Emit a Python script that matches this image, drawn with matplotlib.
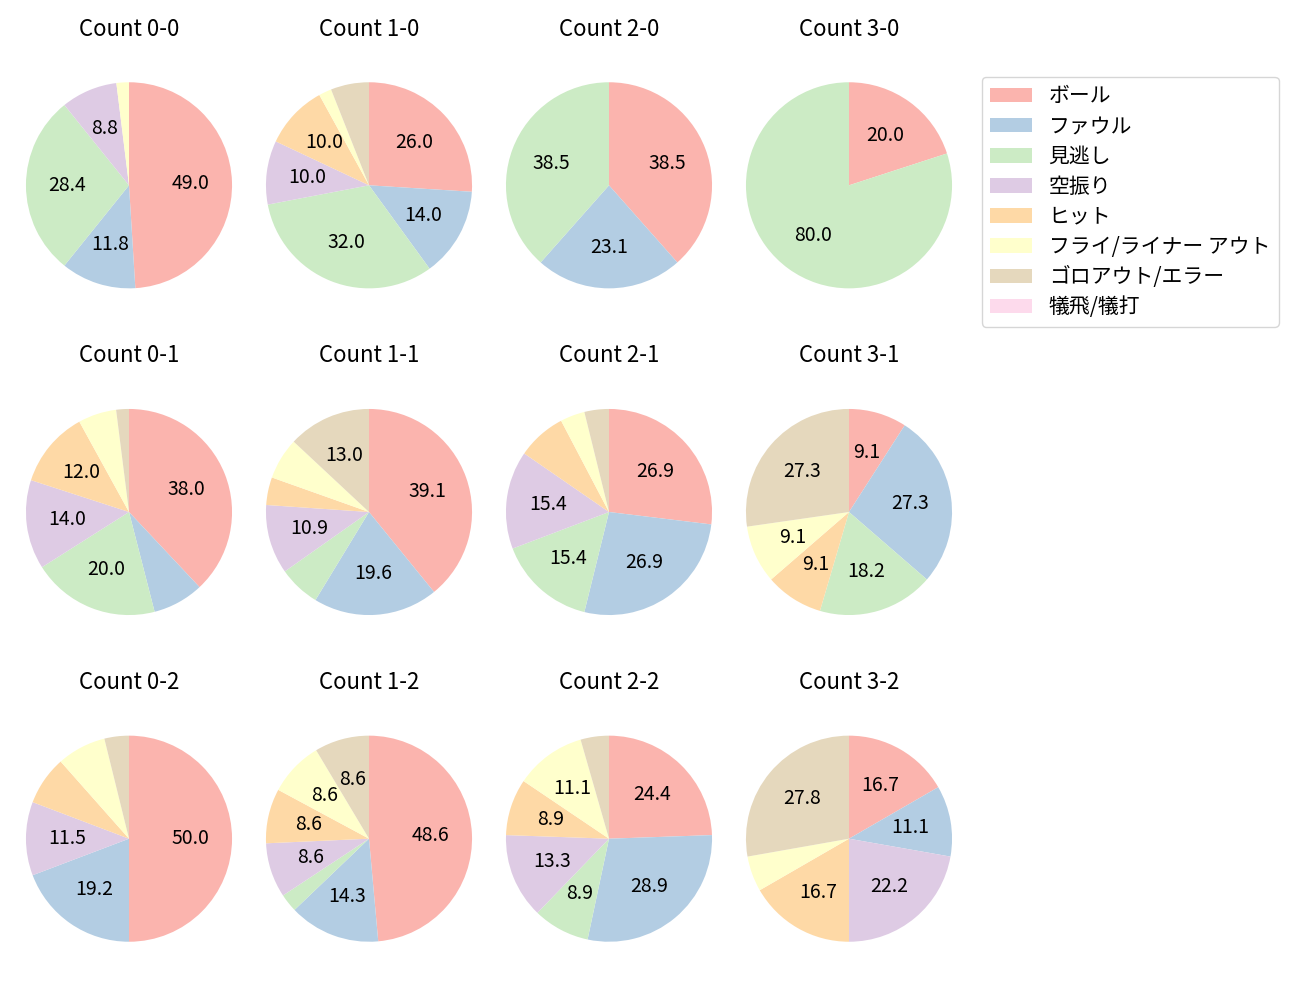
import matplotlib
matplotlib.use("Agg")
import matplotlib.pyplot as plt
from matplotlib.patches import Patch

plt.rcParams['font.family'] = ['Noto Sans CJK JP', 'DejaVu Sans']
plt.rcParams['font.size'] = 14

categories = ["ボール", "ファウル", "見逃し", "空振り", "ヒット",
              "フライ/ライナー アウト", "ゴロアウト/エラー", "犠飛/犠打"]

balls = [0, 1, 2, 3]
strikes = [0, 1, 2]

# counts per category for each ball-strike count
c_0_0 = [50, 12, 29, 9, 0, 2, 0, 0]
c_1_0 = [13, 7, 16, 5, 5, 1, 3, 0]
c_2_0 = [5, 3, 5, 0, 0, 0, 0, 0]
c_3_0 = [1, 0, 4, 0, 0, 0, 0, 0]
c_0_1 = [19, 4, 10, 7, 6, 3, 1, 0]
c_1_1 = [18, 9, 3, 5, 2, 3, 6, 0]
c_2_1 = [7, 7, 4, 4, 2, 1, 1, 0]
c_3_1 = [1, 3, 2, 0, 1, 1, 3, 0]
c_0_2 = [13, 5, 0, 3, 2, 2, 1, 0]
c_1_2 = [17, 5, 1, 3, 3, 3, 3, 0]
c_2_2 = [11, 13, 4, 6, 4, 5, 2, 0]
c_3_2 = [3, 2, 0, 4, 3, 1, 5, 0]

data = {
    (0, 0): c_0_0, (1, 0): c_1_0, (2, 0): c_2_0, (3, 0): c_3_0,
    (0, 1): c_0_1, (1, 1): c_1_1, (2, 1): c_2_1, (3, 1): c_3_1,
    (0, 2): c_0_2, (1, 2): c_1_2, (2, 2): c_2_2, (3, 2): c_3_2,
}

colors = [plt.cm.Pastel1(i) for i in range(len(categories))]

fig = plt.figure(figsize=(13, 10), dpi=100)
axes = fig.subplots(3, 4)
fig.subplots_adjust(left=14/1300, right=964/1300, top=1-44/1000, bottom=0.02,
                    wspace=10/230, hspace=44/282)


def fmt(p):
    return f"{p:.1f}" if p > 8.05 else ""


for s in strikes:
    for b in balls:
        ax = axes[s][b]
        vals = data[(b, s)]
        ax.pie(vals, colors=colors, startangle=90, counterclock=False,
               autopct=fmt, radius=1.12, pctdistance=0.6)
        ax.set_aspect('equal', adjustable='datalim')
        ax.set_title(f"Count {b}-{s}", fontsize=16)

legend_handles = [Patch(facecolor=c) for c in colors]
fig.legend(legend_handles, categories, loc='upper left',
           bbox_to_anchor=(982/1300, 1-77/1000), borderaxespad=0,
           fontsize=15, labelspacing=0.39)

fig.savefig("out.png", dpi=100)
